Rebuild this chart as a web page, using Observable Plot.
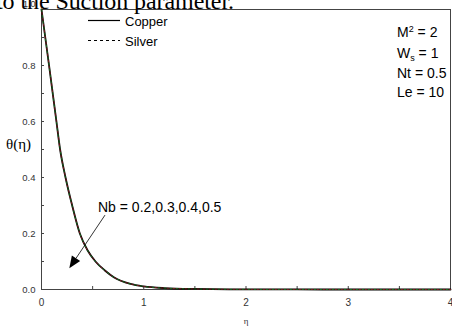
<!DOCTYPE html>
<html>
<head>
<meta charset="utf-8">
<script src="https://cdn.jsdelivr.net/npm/d3@7"></script>
<script src="https://cdn.jsdelivr.net/npm/@observablehq/plot@0.6"></script>
<style>
  html, body { margin: 0; padding: 0; background: #fff; }
  #chart svg { display: block; }
</style>
</head>
<body>
<div id="chart"></div>
<script>
// ---- data ----
const eta    = [0, 0.074, 0.146, 0.182, 0.235, 0.30, 0.375, 0.45, 0.528, 0.62, 0.707, 0.87, 1.0, 1.2, 1.5, 2.0, 2.5, 3.0, 4.0];
const copper = [1.0, 0.80, 0.60, 0.50, 0.40, 0.30, 0.20, 0.14, 0.10, 0.068, 0.044, 0.020, 0.011, 0.005, 0.002, 0.0005, 0.0001, 0, 0];
const silver = [1.0, 0.80, 0.60, 0.50, 0.40, 0.30, 0.20, 0.14, 0.10, 0.068, 0.044, 0.020, 0.011, 0.005, 0.002, 0.0005, 0.0001, 0, 0];
const seriesNames = ["Copper", "Silver"];
const xTickLabels = [0, 1, 2, 3, 4];
const xMinorTicks = [0.5, 1, 1.5, 2, 2.5, 3, 3.5];
const yTickLabels = [0, 0.2, 0.4, 0.6, 0.8];
const yTopLabel = [1.0];
const yMinorTicks = [0.1, 0.2, 0.3, 0.4, 0.5, 0.6, 0.7, 0.8, 0.9];
const params = [["M", "2", "", " = 2"], ["W", "", "s", " = 1"], ["Nt", "", "", " = 0.5"], ["Le", "", "", " = 10"]];
const nbLabel = "Nb = 0.2,0.3,0.4,0.5";
const arrowFrom = [0.626, 0.264];
const arrowTo = [0.277, 0.074];
const headerText = "to the Suction parameter.";

const rows = [];
eta.forEach((e, i) => {
  rows.push({eta: e, theta: copper[i], s: seriesNames[0]});
  rows.push({eta: e, theta: silver[i], s: seriesNames[1]});
});
const copperRows = rows.filter(d => d.s === "Copper");
const silverRows = rows.filter(d => d.s === "Silver");

const W = 452, H = 326, mL = 41, mR = 2, mT = 9, mB = 37;

function overlay(index, scales, values, dims) {
  const sx = scales.x || d3.scaleLinear([0, 4], [mL, W - mR]);
  const sy = scales.y || d3.scaleLinear([0, 1], [H - mB, mT]);
  const g = d3.create("svg:g").attr("text-anchor", "start");
  const sans = "'Liberation Sans', Arial, sans-serif";
  const serif = "'Liberation Serif', 'Times New Roman', serif";

  // header text from the document (clipped at top)
  g.append("text").attr("x", -4).attr("y", 8.5).attr("text-anchor", "start")
    .attr("font-family", serif).attr("font-size", 24)
    .attr("textLength", 238).attr("lengthAdjust", "spacing")
    .attr("fill", "#000").text(headerText);

  // legend
  const leg = g.append("g").attr("font-family", sans).attr("font-size", 13).attr("fill", "#000");
  leg.append("line").attr("x1", 88).attr("x2", 120).attr("y1", 20.5).attr("y2", 20.5)
    .attr("stroke", "#000").attr("stroke-width", 1.2);
  leg.append("text").attr("x", 125).attr("y", 25.5).text(seriesNames[0]);
  leg.append("line").attr("x1", 88).attr("x2", 120).attr("y1", 40.5).attr("y2", 40.5)
    .attr("stroke", "#000").attr("stroke-width", 1.2).attr("stroke-dasharray", "3,3");
  leg.append("text").attr("x", 125).attr("y", 45.5).text(seriesNames[1]);

  // parameters
  const base = [37, 58, 78, 97];
  const pg = g.append("g").attr("font-family", sans).attr("font-size", 14).attr("fill", "#000");
  params.forEach((p, i) => {
    const t = pg.append("text").attr("x", 397).attr("y", base[i]);
    t.append("tspan").text(p[0]);
    if (p[1]) t.append("tspan").attr("font-size", 9).attr("dy", -5).text(p[1]);
    if (p[2]) t.append("tspan").attr("font-size", 9).attr("dy", 3).text(p[2]);
    t.append("tspan").attr("dy", p[1] ? 5 : (p[2] ? -3 : 0)).text(p[3]);
  });

  // Nb annotation + arrow
  g.append("text").attr("x", 98).attr("y", 211.5).attr("font-family", sans)
    .attr("font-size", 14).attr("fill", "#000").text(nbLabel);
  const x1 = sx(arrowFrom[0]), y1 = sy(arrowFrom[1]), x2 = sx(arrowTo[0]), y2 = sy(arrowTo[1]);
  const ang = Math.atan2(y2 - y1, x2 - x1), hl = 12, hw = 5;
  const bx = x2 - hl * Math.cos(ang), by = y2 - hl * Math.sin(ang);
  g.append("line").attr("x1", x1).attr("y1", y1).attr("x2", bx).attr("y2", by)
    .attr("stroke", "#000").attr("stroke-width", 0.8);
  g.append("path").attr("fill", "#000")
    .attr("d", `M${x2},${y2}L${bx - hw * Math.sin(ang)},${by + hw * Math.cos(ang)}L${bx + hw * Math.sin(ang)},${by - hw * Math.cos(ang)}Z`);

  // axis titles
  g.append("text").attr("x", 6).attr("y", 149).attr("font-family", serif)
    .attr("font-size", 15).attr("fill", "#000").text("θ(η)");
  g.append("text").attr("x", 246).attr("y", 324).attr("text-anchor", "middle")
    .attr("font-family", serif).attr("font-size", 9).attr("fill", "#333").text("η");
  return g.node();
}

const chart = Plot.plot({
  width: W, height: H,
  marginLeft: mL, marginRight: mR, marginTop: mT, marginBottom: mB,
  style: {fontFamily: "'Liberation Sans', Arial, sans-serif", background: "#fff", color: "#333"},
  x: {domain: [0, 4]},
  y: {domain: [0, 1]},
  marks: [
    Plot.frame({stroke: "#444", strokeWidth: 1}),
    Plot.tickY(yMinorTicks, {y: d => d, insetRight: W - mL - mR - 3, stroke: "#444"}),
    Plot.tickX(xMinorTicks, {x: d => d, insetTop: H - mT - mB - 3, stroke: "#444"}),
    Plot.axisY({ticks: yTickLabels, tickSize: 0, tickPadding: 6, fontSize: 9.5, tickFormat: d => d.toFixed(1), fill: "#333", label: null}),
    Plot.axisY({ticks: yTopLabel, tickSize: 0, tickPadding: 6, fontSize: 9, dy: -5, tickFormat: d => d.toFixed(1), fill: "#333", label: null}),
    Plot.axisX({ticks: xTickLabels, tickSize: 0, tickPadding: 9, fontSize: 10, tickFormat: d => String(d), fill: "#333", label: null}),
    Plot.line(copperRows, {x: "eta", y: "theta", stroke: "#000", strokeWidth: 1.8, curve: "monotone-x"}),
    Plot.line(silverRows, {x: "eta", y: "theta", stroke: "#2a8a2a", strokeWidth: 0.8, strokeDasharray: "2,4", curve: "monotone-x"}),
    Plot.line(silverRows, {x: "eta", y: "theta", stroke: "#9a2a2a", strokeWidth: 0.8, strokeDasharray: "2,4", strokeDashoffset: 3, curve: "monotone-x"}),
    overlay
  ]
});
document.getElementById("chart").appendChild(chart);
</script>
</body>
</html>
